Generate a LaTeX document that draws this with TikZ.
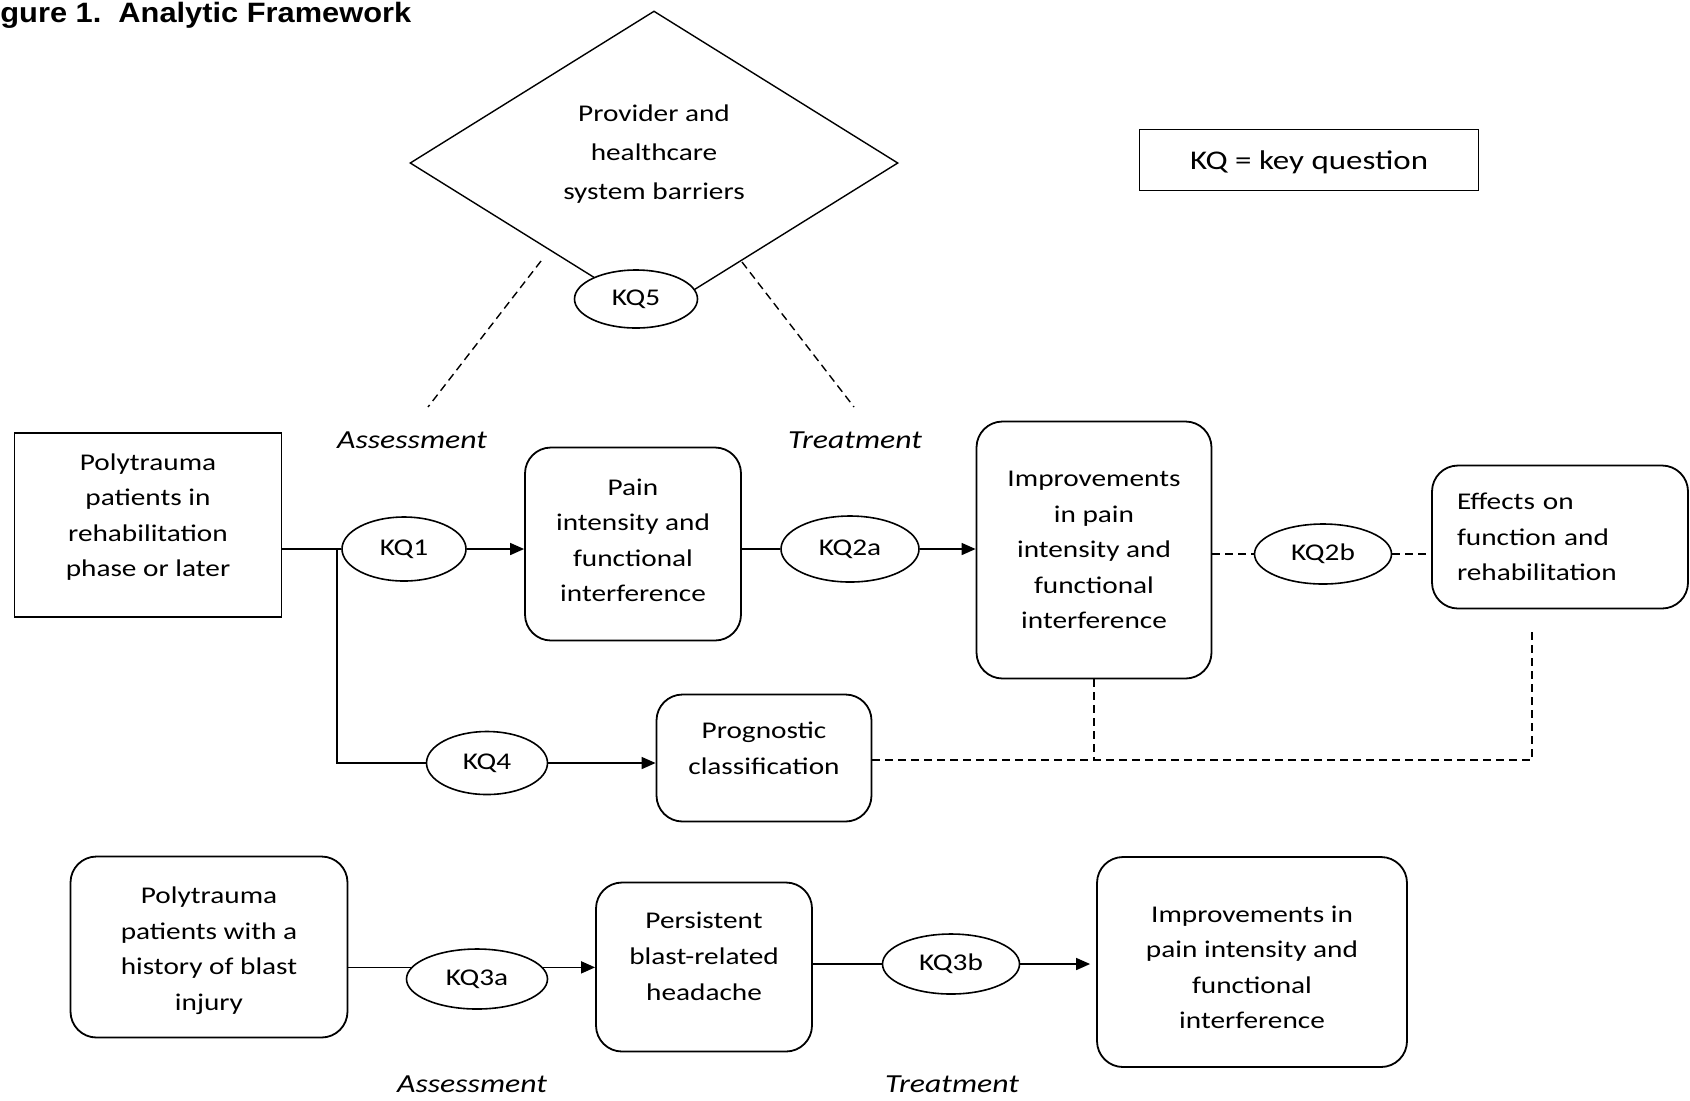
\documentclass[tikz,border=0pt]{standalone}
\usepackage{fontspec}
\setmainfont{Carlito}[FakeStretch=1.22]
\newfontfamily\titlefont{Liberation Sans}[FakeStretch=1.1]
\usepackage{tikz}
\usetikzlibrary{shapes.geometric}
\usetikzlibrary{arrows.meta}

\begin{document}
\begin{tikzpicture}[x=0.5pt, y=-0.5pt,
        every node/.style={font=\fontsize{12}{17.8}\selectfont},
        box/.style={draw, rectangle, line width=0.9pt, align=center, inner sep=2pt},
        rbox/.style={box, rounded corners=13pt},
        kq/.style={draw, ellipse, line width=0.8pt, fill=white, inner sep=1pt},
        lab/.style={font=\fontsize{13}{16}\selectfont\itshape},
        link/.style={line width=0.8pt},
        arr/.style={link, -{Triangle[length=7pt,width=6pt]}},
        dashlink/.style={line width=0.7pt, dash pattern=on 4pt off 2.5pt}]
        \useasboundingbox (0,0) rectangle (1690,1100);
        % title
        \node[anchor=base west, inner xsep=0pt, font=\titlefont\bfseries\fontsize{14}{16}\selectfont] (title) at (0,22) {gure 1.\ \ Analytic Framework};
        % nodes
        \node[draw, diamond, aspect=1.6, line width=0.7pt, minimum width=244pt, minimum height=152pt, inner sep=0pt, align=center, font=\fontsize{12}{19.4}\selectfont, text depth=11pt] (barrier) at (654,163) {Provider and\\healthcare\\system barriers};
        \node[kq, minimum width=61.5pt, minimum height=29pt] (kq5) at (636,299) {KQ5};
        \node[box, line width=0.7pt, minimum width=169.5pt, minimum height=30.5pt, font=\fontsize{13.5}{16}\selectfont, text depth=0pt] (legend) at (1309,160) {KQ = key question};
        \node[box, minimum width=133.5pt, minimum height=92pt, text depth=9.9pt] (poly) at (148,525) {Polytrauma\\patients in\\rehabilitation\\phase or later};
        \node[kq, minimum width=62pt, minimum height=32pt] (kq1) at (404,549) {KQ1};
        \node[rbox, minimum width=108pt, minimum height=96.5pt, text depth=3.8pt] (pain) at (633,544) {Pain\\intensity and\\functional\\interference};
        \node[kq, minimum width=69pt, minimum height=33pt] (kq2a) at (850,549) {KQ2a};
        \node[rbox, minimum width=117.5pt, minimum height=128.5pt] (improve) at (1094,550) {Improvements\\in pain\\intensity and\\functional\\interference};
        \node[kq, minimum width=68.5pt, minimum height=30pt] (kq2b) at (1323,554) {KQ2b};
        \node[rbox, text width=103pt, inner xsep=12.5pt, minimum height=71.5pt, align=left] (effects) at (1560,537) {Effects on\\function and\\rehabilitation};
        \node[kq, minimum width=60.5pt, minimum height=31.5pt] (kq4) at (487,763) {KQ4};
        \node[rbox, minimum width=107.5pt, minimum height=63.5pt, text depth=9.7pt] (prog) at (764,758) {Prognostic\\classification};
        \node[rbox, minimum width=138.5pt, minimum height=90.5pt, text height=65.6pt] (poly2) at (209,947) {Polytrauma\\patients with a\\history of blast\\injury};
        \node[kq, minimum width=70.5pt, minimum height=30pt] (kq3a) at (477,979) {KQ3a};
        \node[rbox, minimum width=108pt, minimum height=84.5pt, text depth=10.8pt] (persist) at (704,967) {Persistent\\blast-related\\headache};
        \node[kq, minimum width=68.5pt, minimum height=30pt] (kq3b) at (951,964) {KQ3b};
        \node[rbox, minimum width=155pt, minimum height=105pt, text height=67pt] (improve2) at (1252,962) {Improvements in\\pain intensity and\\functional\\interference};
        % labels
        \node[lab] (assess) at (412,440) {Assessment};
        \node[lab] (treat) at (855,440) {Treatment};
        \node[lab] (assess2) at (472,1084) {Assessment};
        \node[lab] (treat2) at (952,1084) {Treatment};
        % free ends
        \coordinate (split) at (337,549);
        \coordinate (join) at (1532,760);
        \coordinate (up) at (1532,627);
        \coordinate (d1) at (541,261);
        \coordinate (d2) at (428,407);
        \coordinate (d3) at (742,262);
        \coordinate (d4) at (854,407);
        % arrows
        \draw[dashlink] (d1) -- (d2);
        \draw[dashlink] (d3) -- (d4);
        \draw[link] (poly.east |- kq1) -- (kq1.west);
        \draw[arr] (kq1.east) -- (pain.west |- kq1);
        \draw[link] (split) |- (kq4.west);
        \draw[arr] (kq4.east) -- (prog.west |- kq4);
        \draw[link] (pain.east |- kq2a) -- (kq2a.west);
        \draw[arr] (kq2a.east) -- (improve.west |- kq2a);
        \draw[dashlink] (improve.east |- kq2b) -- (kq2b.west);
        \draw[dashlink] (kq2b.east) -- (effects.west |- kq2b);
        \draw[dashlink] (prog.east |- join) -- (join) -- (up);
        \draw[dashlink] (improve.south) -- (improve.south |- join);
        \draw[link] (poly2.east |- kq3a.170) -- (kq3a.170);
        \draw[arr] (kq3a.10) -- (persist.west |- kq3a.10);
        \draw[link] (persist.east |- kq3b) -- (kq3b.west);
        \draw[arr, shorten >=3pt] (kq3b.east) -- (improve2.west |- kq3b);
    \end{tikzpicture}
\end{document}
